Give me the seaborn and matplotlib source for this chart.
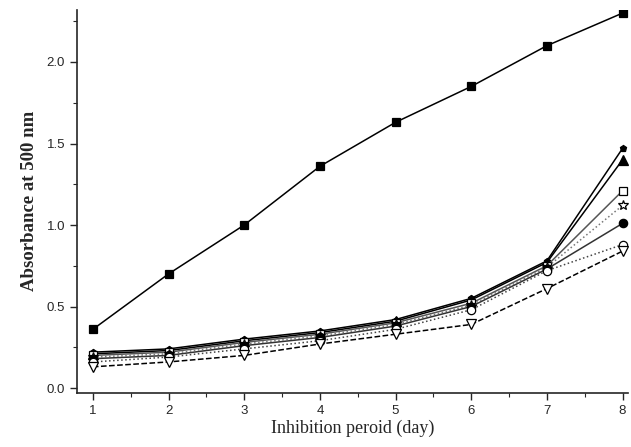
import numpy as np
import pandas as pd
import seaborn as sns
import matplotlib.pyplot as plt
from matplotlib.ticker import MultipleLocator

# Valeurs
days = [1, 2, 3, 4, 5, 6, 7, 8]
s_square = [0.36, 0.70, 1.00, 1.36, 1.63, 1.85, 2.10, 2.30]
s_pent = [0.22, 0.24, 0.30, 0.35, 0.42, 0.55, 0.78, 1.47]
s_tri = [0.21, 0.23, 0.29, 0.34, 0.41, 0.54, 0.77, 1.40]
s_osq = [0.20, 0.22, 0.28, 0.33, 0.40, 0.52, 0.75, 1.21]
s_star = [0.19, 0.21, 0.27, 0.32, 0.39, 0.51, 0.74, 1.12]
s_circ = [0.18, 0.20, 0.26, 0.31, 0.38, 0.50, 0.73, 1.01]
s_ocirc = [0.16, 0.19, 0.24, 0.29, 0.36, 0.48, 0.72, 0.88]
s_otri = [0.13, 0.16, 0.20, 0.27, 0.33, 0.39, 0.61, 0.84]

series = [
    (s_square, 's', '-', 'black', 'black', 6),
    (s_pent, 'p', '-', 'black', 'black', 5),
    (s_tri, '^', '-', 'black', 'black', 7),
    (s_osq, 's', '-', '#555555', 'white', 6),
    (s_star, '*', ':', '#777777', 'white', 7),
    (s_circ, 'o', '-', '#333333', 'black', 6),
    (s_ocirc, 'o', ':', '#444444', 'white', 6),
    (s_otri, 'v', '--', 'black', 'white', 7),
]

sns.set_style("ticks")
plt.rcParams['font.family'] = ['Liberation Sans', 'DejaVu Sans']

fig = plt.figure(figsize=(6.31, 4.47), dpi=100)
ax = fig.add_axes([0.122, 0.121, 0.873, 0.857])

for vals, mk, ls, col, fc, ms in series:
    df = pd.DataFrame({'day': days, 'abs': vals})
    sns.lineplot(data=df, x='day', y='abs', ax=ax, color=col, linestyle=ls,
                 linewidth=1.1, marker=mk, markersize=ms,
                 markerfacecolor=fc, markeredgecolor='black', markeredgewidth=0.9)

ax.set_xlim(0.79, 8.07)
ax.set_ylim(-0.03, 2.32)
ax.xaxis.set_major_locator(MultipleLocator(1))
ax.xaxis.set_minor_locator(MultipleLocator(0.5))
ax.yaxis.set_major_locator(MultipleLocator(0.5))
ax.yaxis.set_minor_locator(MultipleLocator(0.25))
ax.tick_params(which='major', direction='out', length=5, width=1, labelsize=9.5)
ax.tick_params(which='minor', direction='out', length=3, width=0.8)
ax.set_yticklabels([f'{v:.1f}' for v in ax.get_yticks()])

sns.despine(ax=ax)
for sp in ['left', 'bottom']:
    ax.spines[sp].set_linewidth(1.2)

ax.set_xlabel('Inhibition peroid (day)', family=['Liberation Serif'], fontsize=13, labelpad=2)
ax.set_ylabel('Absorbance at 500 nm', family=['Liberation Serif'], fontsize=13.5,
              fontweight='bold', labelpad=6)

fig.savefig('out.png', dpi=100)
